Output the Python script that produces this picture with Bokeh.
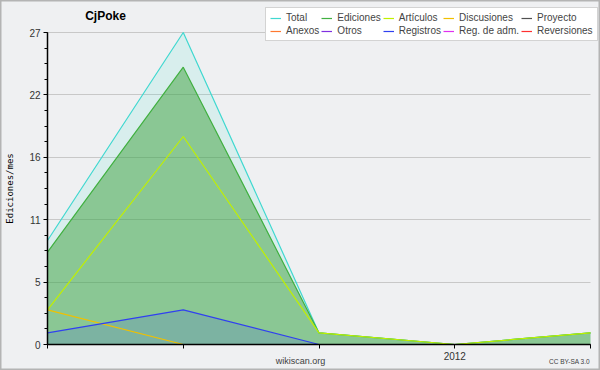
from bokeh.plotting import figure
from bokeh.models import FixedTicker, Label, Legend, LegendItem, ColumnDataSource
from bokeh.embed import file_html
from bokeh.resources import INLINE

# ---- data ----
months = ["2011-10", "2011-11", "2011-12", "2012-01", "2012-02"]
x_tick_labels = ["", "", "", "2012", ""]
total = [9, 27, 1, 0, 1]
ediciones = [8, 24, 1, 0, 1]
articulos = [3, 18, 1, 0, 1]
discusiones = [3, 0, 0, 0, 0]
proyecto = [0, 0, 0, 0, 0]
anexos = [0, 0, 0, 0, 0]
otros = [0, 0, 0, 0, 0]
registros = [1, 3, 0, 0, 0]
reg_adm = [0, 0, 0, 0, 0]
reversiones = [0, 0, 0, 0, 0]
y_ticks = [0, 5.4, 10.8, 16.2, 21.6, 27]
y_tick_labels = ["0", "5", "11", "16", "22", "27"]
y_max = 27

xs = list(range(len(months)))
src = ColumnDataSource(dict(x=xs, total=total, ediciones=ediciones, articulos=articulos,
                            discusiones=discusiones, proyecto=proyecto, anexos=anexos,
                            otros=otros, registros=registros, reg_adm=reg_adm,
                            reversiones=reversiones, zero=[0] * len(xs)))

# layout geometry (pixels)
W, H = 600, 370
fl, fr, ft, fb = 47, 590, 32, 344      # plot area inside the canvas
xpx = (fr - fl) / (len(xs) - 1)
ypx = (fb - ft) / y_max
x_range = (-(fl) / xpx, (len(xs) - 1) + (W - fr) / xpx)
y_range = (-(H - fb) / ypx, y_max + ft / ypx)

p = figure(width=W, height=H, output_backend="svg", toolbar_location=None,
           x_range=x_range, y_range=y_range,
           min_border_left=0, min_border_right=0, min_border_top=0, min_border_bottom=0)
p.background_fill_color = "#eff0f2"
p.border_fill_color = "#f0f0f0"
p.outline_line_color = "#b4b4b4"
p.outline_line_width = 2

# fills
p.varea(x="x", y1="zero", y2="total", source=src, fill_color="#40e0d0", fill_alpha=0.13)
p.varea(x="x", y1="zero", y2="ediciones", source=src, fill_color="#3ca03c", fill_alpha=0.5)
p.varea(x="x", y1="zero", y2="registros", source=src, fill_color="#3040f0", fill_alpha=0.15)

series = [
    ("Total", "total", "#40d8d0"),
    ("Ediciones", "ediciones", "#40b040"),
    ("Artículos", "articulos", "#c0f000"),
    ("Discusiones", "discusiones", "#f0c000"),
    ("Proyecto", "proyecto", "#505050"),
    ("Anexos", "anexos", "#ff7830"),
    ("Otros", "otros", "#8030e0"),
    ("Registros", "registros", "#3040f0"),
    ("Reg. de adm.", "reg_adm", "#e030f0"),
    ("Reversiones", "reversiones", "#ff3030"),
]
renderers = {}
order = ["proyecto", "anexos", "otros", "reg_adm", "reversiones", "total", "ediciones",
         "discusiones", "articulos", "registros"]
colors = {k: c for _, k, c in series}
for k in order:
    renderers[k] = p.line(x="x", y=k, source=src, line_color=colors[k], line_width=1.2)

items = [LegendItem(label=name, renderers=[renderers[k]]) for name, k, _ in series]
legend = Legend(items=items, orientation="horizontal", ncols=5,
                location=(265, H - 41),
                label_text_font="Liberation Sans", label_text_font_size="10px",
                label_height=10, glyph_height=10, glyph_width=11, label_standoff=5,
                spacing=2, padding=4, margin=0, border_line_color="#a8a8a8",
                background_fill_color="white", background_fill_alpha=1)
p.add_layout(legend, "center")

# axes
p.xaxis.ticker = FixedTicker(ticks=xs)
p.xaxis.major_label_overrides = {i: t for i, t in enumerate(x_tick_labels)}
p.xaxis.fixed_location = 0
p.xaxis.bounds = (xs[0], xs[-1])
p.yaxis.ticker = FixedTicker(ticks=y_ticks,
                             minor_ticks=[i * y_max / 20 for i in range(21)])
p.yaxis.major_label_overrides = {t: l for t, l in zip(y_ticks, y_tick_labels)}
p.yaxis.fixed_location = 0
p.yaxis.bounds = (0, y_max)
for ax in (p.xaxis[0], p.yaxis[0]):
    ax.axis_line_color = "black"
    ax.axis_line_width = 1.5
    ax.major_tick_line_color = "black"
    ax.major_tick_in = 0
    ax.major_tick_out = 4
    ax.minor_tick_in = 0
    ax.minor_tick_out = 3
    ax.major_label_text_font = "Liberation Sans"
    ax.major_label_text_font_size = "10px"
    ax.major_label_text_color = "#333333"
    ax.major_label_standoff = 3
p.xaxis.minor_tick_line_color = None
p.yaxis.axis_label = "Ediciones/mes"
p.yaxis.axis_label_text_font = "DejaVu Sans Mono"
p.yaxis.axis_label_text_font_style = "normal"
p.yaxis.axis_label_text_font_size = "9px"
p.yaxis.axis_label_text_color = "black"
p.yaxis.axis_label_standoff = 11
p.xgrid.grid_line_color = None
p.ygrid.ticker = FixedTicker(ticks=y_ticks)
p.ygrid.grid_line_color = "#c8c8c8"
p.ygrid.cross_bounds = (xs[0], xs[-1])

# texts
p.add_layout(Label(x=(105 - fl) / xpx, y=(fb - 15) / ypx, text="CjPoke",
                   text_font="Liberation Sans", text_font_style="bold",
                   text_font_size="12px", text_align="center", text_baseline="middle",
                   text_color="black"))
p.add_layout(Label(x=(300 - fl) / xpx, y=-(360 - fb) / ypx, text="wikiscan.org",
                   text_font="Liberation Sans", text_font_size="9px", text_align="center",
                   text_baseline="middle", text_color="#404040"))
p.add_layout(Label(x=(569 - fl) / xpx, y=-(361 - fb) / ypx, text="CC BY-SA 3.0",
                   text_font="Liberation Sans", text_font_size="6.5px", text_align="center",
                   text_baseline="middle", text_color="#404040"))

open("out.html", "w").write(file_html(p, INLINE))
